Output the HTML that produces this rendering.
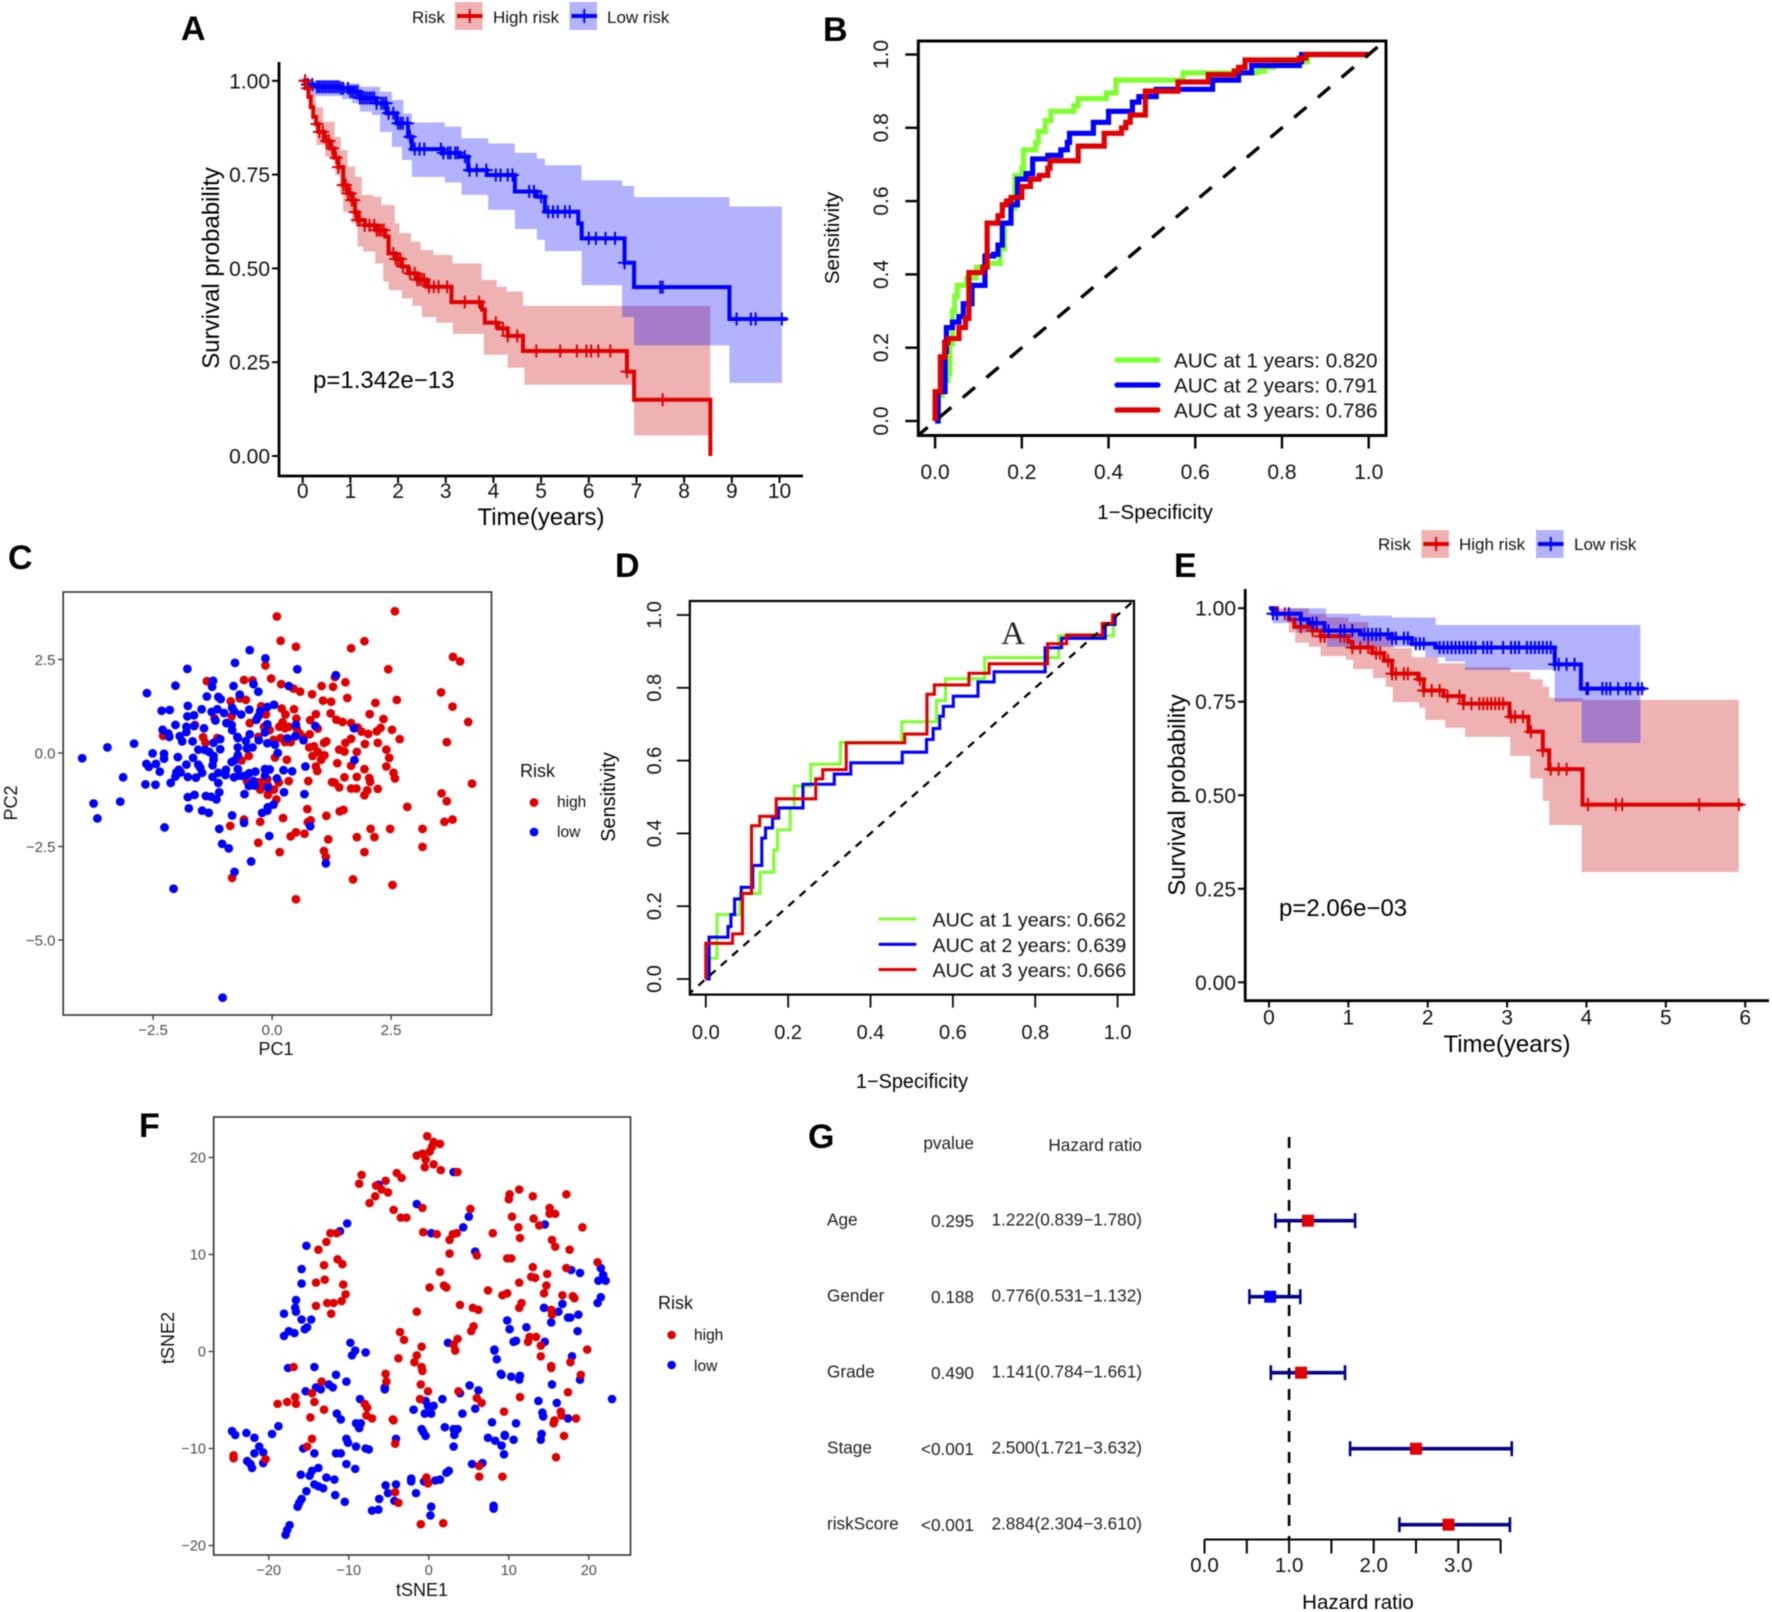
<!DOCTYPE html>
<html lang="en">
<head>
<meta charset="utf-8">
<title>Prognostic risk model figure panels A to G</title>
<style>
html,body{margin:0;padding:0;background:#fff;}
svg{display:block;filter:blur(0.4px);}
text{font-family:"Liberation Sans",sans-serif;fill:#000;}
.letter{font-weight:700;font-size:34px;}
.km-leg{font-size:17px;fill:#111;}
.title24{font-size:24px;}
.title20{font-size:20.5px;}
.title20d{font-size:19.9px;}
.gg-title{font-size:18px;fill:#111;}
.gg-leg{font-size:15.5px;fill:#111;}
.forest{font-size:17.2px;fill:#222;}
</style>
</head>
<body>
<svg id="figure" xmlns="http://www.w3.org/2000/svg" width="1772" height="1612" viewBox="0 0 1772 1612">
<rect x="0" y="0" width="1772" height="1612" fill="#fff"/>
<defs>
<clipPath id="clip-b"><rect x="918" y="41" width="469" height="394"/></clipPath>
<clipPath id="clip-d"><rect x="690" y="601" width="444" height="393"/></clipPath>
</defs>

<g id="panel-a">
<text class="letter" x="181" y="40">A</text>
<text class="km-leg" x="412" y="23">Risk</text>
<text class="km-leg" x="493" y="23">High risk</text>
<text class="km-leg" x="607" y="23">Low risk</text>
<text class="title24" x="541" y="525" text-anchor="middle">Time(years)</text>
<text class="title24" transform="translate(219,268) rotate(-90)" text-anchor="middle">Survival probability</text>
<text class="title24" x="313" y="388">p=1.342e−13</text>
</g>

<g id="panel-b">
<text class="letter" x="823" y="41">B</text>
<text class="title20" x="1155" y="519" text-anchor="middle">1−Specificity</text>
<text class="title20" transform="translate(839,238) rotate(-90)" text-anchor="middle">Sensitivity</text>
</g>

<g id="panel-c">
<text class="letter" x="8" y="569">C</text>
<text class="gg-title" x="276" y="1055" text-anchor="middle">PC1</text>
<text class="gg-title" transform="translate(17,803) rotate(-90)" text-anchor="middle">PC2</text>
<text class="gg-title" x="520" y="777">Risk</text>
<text class="gg-leg" x="557" y="807">high</text>
<text class="gg-leg" x="557" y="837">low</text>
</g>

<g id="panel-d">
<text class="letter" x="615" y="577">D</text>
<text class="title20d" x="912" y="1088" text-anchor="middle">1−Specificity</text>
<text class="title20d" transform="translate(615,797) rotate(-90)" text-anchor="middle">Sensitivity</text>
<text x="1013" y="644" text-anchor="middle" style="font-family:'Liberation Serif',serif;font-size:33px;fill:#222;">A</text>
</g>

<g id="panel-e">
<text class="letter" x="1174" y="577">E</text>
<text class="km-leg" x="1378" y="550">Risk</text>
<text class="km-leg" x="1459" y="550">High risk</text>
<text class="km-leg" x="1574" y="550">Low risk</text>
<text class="title24" x="1507" y="1052" text-anchor="middle">Time(years)</text>
<text class="title24" transform="translate(1185,795) rotate(-90)" text-anchor="middle">Survival probability</text>
<text class="title24" x="1279" y="916">p=2.06e−03</text>
</g>

<g id="panel-f">
<text class="letter" x="139" y="1137">F</text>
<text class="gg-title" x="422" y="1596" text-anchor="middle">tSNE1</text>
<text class="gg-title" transform="translate(174,1338) rotate(-90)" text-anchor="middle">tSNE2</text>
<text class="gg-title" x="658" y="1309">Risk</text>
<text class="gg-leg" x="694" y="1340">high</text>
<text class="gg-leg" x="694" y="1371">low</text>
</g>

<g id="panel-g">
<text class="letter" x="808" y="1148">G</text>
<text class="forest" x="974" y="1149" text-anchor="end">pvalue</text>
<text class="forest" x="1142" y="1151" text-anchor="end">Hazard ratio</text>
<text class="title20" x="1358" y="1609" text-anchor="middle">Hazard ratio</text>
</g>
</svg>

<script>
// ---------- Panel A: survival data ----------
const aXTicks = [0,1,2,3,4,5,6,7,8,9,10];
const aYTicks = [0,0.25,0.5,0.75,1];
const aYTickLabels = ['0.00','0.25','0.50','0.75','1.00'];
const aHighT = [0,.06,.12,.17,.22,.28,.33,.45,.57,.66,.75,.85,.94,1.03,1.1,1.15,1.3,1.55,1.73,1.8,1.95,2.08,2.21,2.4,2.6,3.12,3.76,3.82,4.1,4.3,4.62,6.8,6.95,8.55];
const aHighS = [1,.98,.957,.93,.904,.885,.864,.84,.82,.795,.77,.722,.7,.682,.65,.629,.615,.602,.585,.54,.525,.505,.487,.47,.451,.41,.39,.355,.34,.32,.28,.225,.15,0];
const aHighUpperT = [0,.1,.22,.43,.67,.8,.94,1.1,1.24,1.48,1.65,1.93,2.03,2.27,2.47,2.74,3.14,3.75,4.07,4.28,4.62];
const aHighUpper = [1,.98,.93,.891,.851,.816,.771,.744,.696,.691,.669,.62,.594,.571,.549,.536,.513,.469,.451,.438,.4];
const aHighLowerT = [0,.1,.27,.29,.47,.68,.78,.85,1.03,1.15,1.27,1.52,1.69,1.8,2.08,2.3,2.5,2.8,3.15,3.8,4.3,4.65,6.95];
const aHighLower = [1,.96,.878,.829,.798,.749,.7,.651,.62,.558,.545,.513,.465,.442,.42,.4,.37,.355,.325,.27,.235,.19,.055];
const aHighCensor = [.05,.1,.3,.35,.42,.5,.55,.62,.7,.75,.85,.9,.95,1,1.03,1.07,1.1,1.15,1.2,1.3,1.4,1.5,1.55,1.6,1.65,1.7,1.9,1.95,2,2.05,2.1,2.25,2.35,2.4,2.45,2.5,2.55,2.65,2.75,2.85,3.03,3.4,3.7,4.05,4.2,4.3,4.5,4.9,5.4,5.75,5.95,6.05,6.2,6.45,6.8,7.55];
const aLowT = [0,.1,.22,.78,.99,1.2,1.55,1.76,1.97,2.21,2.29,2.95,3.3,3.47,3.86,4.45,4.91,5.08,5.78,5.85,6.75,6.95,8.95];
const aLowS = [1,.99,.984,.98,.971,.954,.94,.914,.887,.851,.818,.808,.798,.762,.749,.705,.691,.651,.62,.58,.515,.45,.365];
const aLowUpperT = [0,.82,1.2,1.62,1.87,2.11,2.29,2.98,3.33,3.89,4.45,4.91,5.08,5.85,6.7,6.95,8.95];
const aLowUpper = [1,.993,.984,.971,.949,.913,.889,.878,.847,.833,.808,.793,.775,.735,.72,.69,.665];
const aLowLowerT = [0,.21,.82,1.03,1.2,1.45,1.62,1.87,2.08,2.29,2.98,3.33,3.89,4.45,4.91,5.08,5.85,6.7,6.95,8.95];
const aLowLower = [1,.959,.951,.94,.918,.909,.864,.824,.789,.744,.729,.696,.656,.605,.576,.546,.455,.37,.295,.195];
const aLowCensor = [.05,.1,.2,.3,.35,.4,.45,.5,.55,.6,.65,.7,.75,.8,.85,.95,1,1.05,1.1,1.15,1.2,1.25,1.3,1.35,1.4,1.45,1.5,1.55,1.65,1.7,1.75,1.8,1.9,2,2.05,2.1,2.2,2.25,2.35,2.45,2.55,2.9,2.95,3.05,3.1,3.2,3.25,3.4,3.5,3.65,3.85,4.05,4.15,4.3,4.4,4.75,4.85,5,5.15,5.25,5.35,5.5,5.6,6,6.15,6.35,6.55,6.75,7.5,7.55,9.1,9.4,9.5,10.05];
const aLowLineEnd = 10.16;
const aBandHighEnd = 8.55;
const aBandLowEnd = 10.05;

// ---------- Panel B: ROC data ----------
const rocTicks = [0,0.2,0.4,0.6,0.8,1];
const rocTickLabels = ['0.0','0.2','0.4','0.6','0.8','1.0'];
const bGreenFpr = [0,.007,.016,.03,.034,.04,.045,.051,.073,.095,.122,.15,.16,.175,.184,.2,.204,.232,.238,.254,.267,.32,.33,.395,.417,.572,.744,.76,.78,.859,1];
const bGreenTpr = [0,.07,.11,.13,.21,.3,.34,.37,.39,.42,.43,.47,.54,.58,.67,.69,.74,.76,.79,.82,.845,.86,.88,.895,.93,.95,.955,.965,.98,1,1];
const bBlueFpr = [0,.007,.023,.026,.04,.055,.065,.085,.115,.135,.145,.155,.175,.19,.21,.225,.26,.29,.305,.31,.365,.4,.455,.47,.51,.64,.7,.73,.84,.845,1];
const bBlueTpr = [0,.08,.19,.255,.27,.285,.32,.37,.45,.455,.48,.54,.59,.66,.675,.715,.725,.74,.76,.785,.815,.845,.87,.885,.905,.93,.95,.97,.98,1,1];
const bRedFpr = [0,0,.01,.012,.022,.03,.055,.07,.078,.11,.12,.12,.145,.155,.165,.175,.2,.22,.24,.26,.265,.33,.39,.43,.44,.45,.485,.56,.63,.69,.7,.715,.84,.855,1];
const bRedTpr = [0,.08,.08,.175,.215,.225,.255,.28,.405,.42,.445,.54,.56,.59,.6,.61,.64,.66,.67,.69,.71,.75,.785,.8,.815,.835,.9,.925,.945,.955,.965,.985,.99,1,1];
const bAucLabels = ['AUC at 1 years: 0.820','AUC at 2 years: 0.791','AUC at 3 years: 0.786'];

// ---------- Panel C: PCA data ----------
const cXTicks = [-2.5,0,2.5];
const cXTickLabels = ['−2.5','0.0','2.5'];
const cYTicks = [-5,-2.5,0,2.5];
const cYTickLabels = ['−5.0','−2.5','0.0','2.5'];
const cHighPC1 = [.1,2.58,.18,.5,1.66,1.94,-.14,3.8,3.95,2.44,-1.37,-.59,-.41,-.02,.19,.45,.59,1.04,1.28,1.32,1.54,.84,1.58,3.55,1.07,1.24,2.17,2.62,-.87,-.68,-.55,-.23,.2,.46,3.79,.92,1.23,2.05,.28,-.85,-1.21,-1.62,-.13,-.47,-.17,-.05,.15,.22,.27,.35,.51,.8,.96,1.35,1.48,1.66,1.8,1.88,2.34,2.28,2.2,2.52,4.12,2.02,.52,.58,.64,.79,-2.29,-1.45,-1.15,-1.4,-.29,.03,.18,.27,.39,2.68,3.67,1.66,1.54,2.22,1.95,1.14,1.09,.78,.88,1.41,1.52,2.4,1.78,.96,.85,1.1,1.03,-.49,-.64,.06,.31,2.46,1.37,1.66,.92,.95,1.94,2.4,2.55,2.58,1.52,1.78,2.04,2.06,1.26,1.31,.76,.35,.14,-.1,-.53,-.27,-.09,-.25,-.13,1.41,1.66,1.77,2,2.22,4.2,1.94,3.56,-.09,.04,.09,3.67,2.84,.74,1.42,1.5,.23,3.79,3.62,.81,.75,-.25,-.59,-.88,1.14,2.07,2.48,3.16,.5,.68,.39,1.78,2.15,1.18,-.29,3.16,.16,1.09,1.94,1.13,-.84,1.7,2.53,.5];
const cHighPC2 = [3.65,3.79,3,2.84,2.8,2.99,2.34,2.57,2.45,2.24,1.92,1.95,1.94,1.99,1.84,1.72,1.64,1.79,1.77,2.03,1.89,1.57,1.47,1.62,1.4,1.37,1.34,1.42,1.38,1.46,1.42,1.25,1.19,1.17,1.24,1.04,1.06,1.04,1.03,.98,.93,.75,1.03,.8,.7,.61,.7,.82,.66,.7,.92,.88,.65,.89,.83,.8,.68,.57,.91,.67,.58,.62,.83,.51,.64,.52,.43,.5,.46,.42,.4,.27,.43,.35,.4,.29,.29,.37,.29,.38,.27,.27,.24,.31,.27,.15,.18,.09,.04,.09,.03,.03,-.08,-.06,-.18,-.08,-.2,-.12,-.18,-.13,-.27,-.34,-.36,-.48,-.43,-.36,-.53,-.68,-.65,-.64,-.67,-.77,-.78,-.79,-.75,-.75,-.79,-.7,-.75,-.78,-.87,-.98,-.89,-.92,-.95,-.95,-1,-.96,-.82,-1.13,-1.08,-1.12,-.98,-1.24,-1.29,-1.44,-1.5,-1.56,-1.52,-1.74,-1.78,-1.84,-1.8,-1.85,-1.84,-1.78,-1.95,-1.68,-2.03,-2.03,-2.03,-2.12,-2.16,-2.23,-2.25,-2.25,-2.31,-2.4,-2.51,-2.65,-2.62,-2.65,-2.78,-3.34,-3.38,-3.53,-3.91];
const cLowPC1 = [-.47,-.14,-.78,.53,-1.78,1.34,-1.24,-1.26,-2.03,-.81,-.39,.35,-.29,-.68,-2.63,-1.37,-1.13,-1.08,-1.77,-1.48,-2.32,-2.15,-1.27,-1.15,-1.01,-.84,-.8,-.65,-.48,.04,-.1,-.25,-.29,-.33,-1.19,-1.78,-1.64,-.96,-.85,-.1,-2.03,-1.8,-1.64,-1.43,-2.3,-.84,-1.8,-2.18,-2.16,-1.94,-.47,-.15,-.73,-.72,.49,.32,.66,1.72,.91,.5,-1.89,-1.67,-1.23,-1.09,-.55,-.28,-.1,.06,-3.46,-2.9,-1.55,-1.41,-1.32,-1.09,-.72,-.53,-.41,-.72,.12,-2.51,-2.27,-2.27,-1.98,-1.66,-1.23,-1.23,-.85,-.79,-2.64,-2.59,-2.44,-3.99,-1.8,-1.55,-1.51,-1.25,1.73,.7,-2.36,-1.96,-2.01,-1.92,-1.47,-1.13,-.97,-.72,-.48,-.35,-.15,-.05,.24,.42,-1.25,-.98,-.8,-.67,-.57,-.15,.1,-3.13,-2.03,-1.77,-1.6,-2.13,-1.13,-2.66,-2.45,-.39,-.37,-.49,-.09,-1.11,-.58,.25,.68,-1.63,-1.39,-1.77,-1.28,-1.17,-3.75,-3.19,-3.67,-1.75,-1.47,-1.33,.03,-.09,-.1,-.21,-.84,-.59,-2.26,-1.11,.8,-.06,-1.05,-.91,-.44,1.13,-.79,-2.07,-1.04];
const cLowPC2 = [2.75,2.53,2.41,2.24,2.25,2.08,1.93,1.77,1.8,1.79,1.84,1.79,1.64,1.56,1.6,1.51,1.5,1.44,1.26,1.17,1.13,1.15,1.1,1.17,1.07,1.21,1.12,1.03,1.16,1.29,1.23,1.12,.98,.89,.87,.98,1.01,.8,.75,.77,.75,.7,.72,.66,.62,.61,.56,.52,.43,.45,.5,.55,.43,.4,.45,.39,.34,.66,.72,.75,.31,.31,.27,.37,.32,.34,.26,.22,.15,.25,.09,.08,.03,.1,.15,.12,.15,-.06,0,-.01,-.02,-.15,-.11,-.13,-.08,-.18,-.24,-.2,-.29,-.37,-.29,-.14,-.31,-.31,-.39,-.33,-.19,-.36,-.5,-.45,-.52,-.52,-.53,-.53,-.45,-.43,-.54,-.5,-.43,-.44,-.46,-.49,-.64,-.59,-.65,-.61,-.61,-.61,-.68,-.65,-.63,-.64,-.66,-.8,-.8,-.84,-.85,-.75,-.87,-.88,-.92,-1.05,-1.1,-1.05,-1.1,-1.12,-1.15,-1.18,-1.17,-1.24,-1.35,-1.3,-1.75,-1.48,-1.54,-1.6,-1.38,-1.45,-1.54,-1.6,-1.67,-1.87,-1.99,-2.03,-1.96,-2.22,-2.43,-2.55,-2.9,-2.95,-3.18,-3.63,-6.54];

// ---------- Panel D: ROC data ----------
const dGreenFpr = [0,.008,.027,.083,.132,.165,.174,.205,.215,.255,.327,.476,.56,.582,.677,.857,.99,1];
const dGreenTpr = [0,.057,.177,.235,.293,.355,.41,.47,.53,.59,.65,.707,.765,.825,.883,.943,1,1];
const dBlueFpr = [0,.008,.054,.061,.07,.086,.114,.136,.145,.162,.177,.236,.312,.352,.477,.536,.552,.568,.577,.601,.661,.7,.824,.864,.97,.994,1];
const dBlueTpr = [0,.115,.144,.177,.22,.252,.312,.387,.415,.442,.47,.535,.563,.594,.623,.658,.688,.722,.749,.777,.816,.844,.91,.936,.974,1,1];
const dRedFpr = [0,0,.065,.089,.111,.131,.171,.267,.284,.341,.483,.537,.555,.639,.688,.83,.876,.963,.988,1];
const dRedTpr = [0,.098,.124,.235,.421,.447,.495,.55,.575,.649,.673,.782,.808,.84,.866,.921,.945,.977,1,1];
const dAucLabels = ['AUC at 1 years: 0.662','AUC at 2 years: 0.639','AUC at 3 years: 0.666'];

// ---------- Panel E: survival data ----------
const eXTicks = [0,1,2,3,4,5,6];
const eHighT = [0,.1,.25,.32,.55,.65,1,1.05,1.3,1.45,1.55,1.88,1.95,2.2,2.45,3.03,3.27,3.45,3.53,3.95];
const eHighS = [1,.985,.97,.95,.94,.925,.91,.895,.88,.86,.825,.81,.78,.765,.745,.71,.67,.62,.57,.475];
const eHighUpperT = [0,.5,.72,1,1.25,1.57,1.8,2.13,2.47,3.04,3.29,3.45,3.53,3.95];
const eHighUpper = [1,.985,.975,.963,.93,.893,.869,.853,.842,.83,.81,.79,.76,.755];
const eHighLowerT = [0,.25,.33,.5,.65,.97,1.06,1.31,1.47,1.56,1.89,1.97,2.22,2.47,3.04,3.29,3.45,3.53,3.94];
const eHighLower = [1,.935,.908,.897,.872,.862,.837,.813,.79,.749,.734,.701,.68,.656,.605,.545,.485,.42,.295];
const eHighCensor = [.1,.2,.4,.55,.65,.7,.9,.95,1.05,1.15,1.25,1.35,1.4,1.5,1.55,1.6,1.7,1.75,1.9,1.95,2.05,2.15,2.25,2.4,2.45,2.55,2.65,2.7,2.75,2.8,2.85,2.9,2.95,3.05,3.1,3.2,3.3,3.45,3.55,3.65,3.75,4.02,4.37,4.45,5.42,5.92];
const eLowT = [0,.05,.4,.5,.7,1.15,1.55,1.8,2.1,3.6,3.93];
const eLowS = [1,.985,.97,.96,.94,.93,.92,.905,.895,.85,.785];
const eLowUpperT = [0,.5,.72,1.15,1.55,2.1];
const eLowUpper = [1,1,.985,.98,.975,.955];
const eLowLowerT = [0,.05,.35,.73,1.97,2.22,2.47,3.6,3.94];
const eLowLower = [1,.96,.935,.897,.869,.858,.835,.75,.64];
const eLowCensor = [.05,.1,.25,.4,.55,.6,.75,.9,.95,1.05,1.2,1.25,1.3,1.35,1.4,1.5,1.55,1.6,1.7,1.75,1.85,1.9,1.95,2.15,2.2,2.25,2.3,2.35,2.4,2.45,2.5,2.55,2.6,2.7,2.75,2.8,2.95,3.05,3.1,3.15,3.25,3.3,3.35,3.4,3.45,3.5,3.55,3.6,3.65,3.75,3.85,4,4.02,4.2,4.25,4.3,4.4,4.5,4.55,4.65,4.7];
const eHighLineEnd = 5.97;
const eLowLineEnd = 4.74;
const eBandHighEnd = 5.92;
const eBandLowEnd = 4.68;

// ---------- Panel F: tSNE data ----------
const fXTicks = [-20,-10,0,10,20];
const fXTickLabels = ['−20','−10','0','10','20'];
const fYTicks = [-20,-10,0,10,20];
const fYTickLabels = ['−20','−10','0','10','20'];
const fHighX = [-.2,.6,1.4,.4,.1,-1.5,-.8,-.4,-.5,.6,1.5,3.6,-8.4,-8.7,-6.6,-5.4,-4,-3.4,-5.9,-5.1,-6.7,-7.4,-4.4,-3.5,-2.8,-.8,5.2,11.3,10.1,10,13,17.2,15.1,15.1,15.8,10.4,13.1,13.8,11.2,19.2,-12.3,-11.5,-12.8,-13.8,-.7,1,3,3.5,2.6,8,11.4,15.4,15.8,17.6,2.6,6,9.8,10.3,-11.4,-10.8,-13.1,13,17.2,21.1,1.4,14.8,12.8,13.3,11.3,14.7,-13,-14.1,-10.7,-10.4,.1,1.9,2.2,7.4,9.2,9.8,14.4,16.7,18,18.2,-10.9,-12.7,-11.9,-14.1,-12.2,3.9,5.5,6.2,11.6,11.3,15.3,15.4,-1.5,-3.6,-3.1,5.6,5.3,3.6,3.1,3.3,12.6,13.4,12.4,14,19.8,-.9,-1.5,-3.8,-1.8,-.9,-.8,14,15.3,15.3,17.7,19,-16.9,-5.4,-5.3,-1,-.1,-13.4,-14.6,-16.7,-17.7,-18.9,-16.6,-14.3,-13.1,-14.8,3.7,-1.1,6,6.6,11.4,17.4,-8,-7.7,-7.8,-7.1,-4.5,-4.4,9.4,16.5,16.6,15.7,15.6,18.4,16.9,-14.6,-15.2,-4.2,-24.4,-24.4,-20.4,15.9,6.3,6.3,9.2,-.3,-.1,-4.2,-3.8,-1,1.8];
const fHighY = [22.2,21.6,21.4,21.1,20.6,20.2,20.4,19.8,19,19.3,18.7,18.5,18.2,17.3,17.1,17.6,18.4,17.9,16.7,16.4,16,15.3,14.6,13.8,13.8,14.8,14.7,16.7,16.2,15.7,16,16.2,14.8,14.2,14.2,13.9,13.7,13,12.8,12.8,12.2,12.2,11.3,10.5,12.3,12.1,12.1,12.2,11.5,12.2,11.7,11.5,10.8,10.5,10.1,9.9,9.6,9.6,9.5,9,8.9,8.7,8.6,9.2,8.2,8,7.7,7.6,7.1,6.8,7.4,7.1,6.9,5.9,6.6,6.8,6.6,6.3,5.8,6,6,5.8,5.7,5.5,5.2,5,5,4.7,3.9,4.8,4.5,4.3,5,4.5,4.3,3.8,4.1,2,1.2,2.6,2.1,1.3,.7,.1,1.5,1.5,1,.6,.2,.5,-.4,-.7,-1.1,-1.6,-2,-.5,-1.5,-1.7,-1.1,-2.4,-1.6,-2.3,-3.1,-3.4,-4.1,-3.1,-4.3,-4.7,-5.2,-5.4,-5.4,-5.2,-6,-6.8,-4.1,-4.9,-4.8,-5.3,-4.7,-4.2,-5.4,-5.8,-6.6,-6.9,-7,-7.1,-6.2,-6.2,-6.6,-7.1,-7.4,-6.9,-8.7,-9,-9.8,-9.5,-10.7,-11,-11.1,-10.9,-11.8,-12.9,-12.9,-13,-13.6,-14.5,-15.6,-17.8,-17.7];
const fLowX = [3.1,-6.3,-1.5,5,4.3,.3,14.5,-10.2,-11.1,-15.3,5.8,-15.9,-15.9,17.8,18.9,21.5,21.8,22.1,21.2,21.5,21.1,-16.6,-16.7,-16.6,-18.1,-15.9,-14.7,-15.2,-15.5,14.4,16.7,16.2,17.4,17.7,18.7,15.3,9.8,10.1,12.2,18.6,-17.5,-18.1,-16.8,-9.8,-9.2,-9.6,-7.9,2.4,10.6,10.9,14.5,8.2,8.2,8.5,17.9,-17.6,-14.3,-11.6,-10.3,-12.5,-12,-13.5,-14.1,-15.4,-5.5,-5.5,9,9.1,10.3,11.4,11.3,18.9,15.4,5.1,6.2,3.9,-8.6,1.7,13.7,16,22.9,-.4,-.1,.6,-1.9,-.5,.3,5.8,4.2,-11.5,-11,14.2,14.3,17.4,-9.1,-8.5,-8.7,7.9,10.9,2,3.1,3.6,3.2,-.9,-.7,-.4,7.4,8.3,9.1,9.5,9.5,10.6,14.1,14,-4.1,-10.3,-10.1,-9.1,-7.9,-7.5,3.1,-11.6,-11,-14.3,-15.7,9.4,5.4,6.7,-10.3,-9.2,-24.6,-24.2,-22.8,-21.8,-19.6,-18.8,-21.2,-20.7,-21.8,-22.7,-22.3,-22.1,-20.7,-16,-14.9,-14.6,-13.8,-12.8,-11.8,-14.3,-13.8,-13.2,-15.3,-11.7,-10.5,-15.9,-16.2,-16.4,-2.2,-2.2,-.6,.8,1.4,2.2,2.5,-5.4,-4.1,-5.1,-6.2,-4.3,-1.6,-7.1,-6.3,.3,.2,8.1,8.1,-17.4,-17.7,-17.9];
const fLowY = [18.5,17.2,15.2,13.9,12.8,12.2,13.1,13.2,12.4,10.9,10.3,8.5,7,8.4,8.1,8.6,7.9,7.3,7.3,5.6,5,5.3,4.5,4.1,3.9,3.3,3.3,2.5,2.3,4.5,4.9,4.1,3.5,3.5,3.8,3,3.2,2.3,2.5,2.1,2.1,1.6,1.9,.9,.1,-.4,-.1,.9,1,1.1,1,.2,.1,-.8,-.5,-1.7,-1.6,-2.4,-3.1,-3.4,-3.7,-3.9,-3.7,-4.1,-3.7,-3.9,-2.3,-2.4,-2.6,-2.5,-2.9,-2.9,-3.4,-3.5,-4,-4.3,-4.9,-4.9,-5.1,-5.3,-4.9,-5.1,-5.6,-5.6,-6,-6.4,-6.4,-5.9,-6.4,-6.4,-7,-6.3,-6.7,-6.9,-7.4,-7.4,-7.9,-7.3,-7.4,-7.8,-8,-8,-8.6,-8,-8.3,-8.7,-8.9,-9.2,-9.7,-8.6,-8.7,-9.1,-8.5,-9.1,-9,-9,-9.4,-9.8,-10,-10.1,-9.8,-10.5,-10.5,-10.5,-10,-10.6,-11.6,-11.5,-11.6,-12.1,-8.2,-8.6,-8.4,-8.9,-8.5,-7.7,-9.8,-10.4,-10.5,-11.3,-11.6,-12,-11.5,-12.7,-12.8,-12.3,-12,-13,-13.2,-13.7,-13.9,-14.1,-14.4,-14.8,-15.5,-15.2,-15.6,-16,-13.1,-13.4,-13.4,-13.3,-13.2,-12.5,-12.3,-13.8,-13.7,-14.6,-15.2,-15.4,-14.6,-16.4,-16.3,-16,-16.9,-15.9,-16.2,-17.9,-18.4,-18.9];

// ---------- Panel G: forest data ----------
const gVariables = ['Age','Gender','Grade','Stage','riskScore'];
const gPvalues = ['0.295','0.188','0.490','<0.001','<0.001'];
const gHR = [1.222,0.776,1.141,2.5,2.884];
const gLow = [0.839,0.531,0.784,1.721,2.304];
const gHigh = [1.78,1.132,1.661,3.632,3.61];
const gHRLabels = ['1.222(0.839−1.780)','0.776(0.531−1.132)','1.141(0.784−1.661)','2.500(1.721−3.632)','2.884(2.304−3.610)'];
const gAxisTicks = [0,0.5,1,1.5,2,2.5,3,3.5];
const gAxisLabelTicks = [0,1,2,3];
const gAxisLabels = ['0.0','1.0','2.0','3.0'];

// ---------- helpers ----------
const NS = 'http://www.w3.org/2000/svg';
const RED = '#e00000';
const BLUE = '#0000ff';
const GREEN = '#80ff30';
function linear(d0, d1, r0, r1) { return function (v) { return r0 + (v - d0) * (r1 - r0) / (d1 - d0); }; }
function mk(tag, attrs, parent) {
  const n = document.createElementNS(NS, tag);
  for (const k in attrs) n.setAttribute(k, attrs[k]);
  parent.appendChild(n);
  return n;
}
function addLine(parent, name, x1, y1, x2, y2, stroke, w) {
  const el = mk('line', {x1: x1, y1: y1, x2: x2, y2: y2, stroke: stroke, 'stroke-width': w}, parent);
  
  
  return el;
}
function addText(parent, name, str, x, y, size, anchor, fill) {
  const el = mk('text', {x: x, y: y, 'font-size': size, 'text-anchor': anchor, style: 'fill:' + fill}, parent);
  el.textContent = str;
  
  
  return el;
}
function addRotText(parent, name, str, x, y, size, fill) {
  const el = mk('text', {transform: 'translate(' + x + ',' + y + ') rotate(-90)', 'font-size': size, 'text-anchor': 'middle', style: 'fill:' + fill}, parent);
  el.textContent = str;
  
  
  return el;
}
function addRect(parent, name, x, y, w, h, fill, stroke, sw) {
  const el = mk('rect', {x: x, y: y, width: w, height: h, fill: fill, stroke: stroke, 'stroke-width': sw}, parent);
  
  
  return el;
}
function stepD(ts, ss, xf, yf, end) {
  let d = 'M' + xf(ts[0]) + ' ' + yf(ss[0]);
  for (let i = 1; i < ts.length; i++) d += 'H' + xf(ts[i]) + 'V' + yf(ss[i]);
  if (end !== undefined) d += 'H' + xf(end);
  return d;
}
function bandD(tu, u, tl, l, xf, yf, end) {
  let d = stepD(tu, u, xf, yf, end);
  d += 'V' + yf(l[l.length - 1]);
  for (let i = l.length - 1; i >= 1; i--) d += 'H' + xf(tl[i]) + 'V' + yf(l[i - 1]);
  d += 'H' + xf(tl[0]) + 'Z';
  return d;
}
function survAt(t, ts, ss) {
  let s = ss[0];
  for (let i = 0; i < ts.length; i++) if (ts[i] <= t) s = ss[i];
  return s;
}
function addPath(parent, name, d, fill, stroke, w) {
  const el = mk('path', {d: d, fill: fill, stroke: stroke, 'stroke-width': w}, parent);
  
  
  return el;
}
function addBand(parent, name, tu, u, tl, l, xf, yf, end, color) {
  const el = addPath(parent, name, bandD(tu, u, tl, l, xf, yf, end), color, 'none', 0);
  el.setAttribute('fill-opacity', '0.3');
  return el;
}
function addCurve(parent, name, ts, ss, censor, xf, yf, end, color) {
  const g = mk('g', {}, parent);
  
  
  addPath(g, name + '-line', stepD(ts, ss, xf, yf, end), 'none', color, 4);
  censor.forEach(function (t) {
    const px = xf(t), py = yf(survAt(t, ts, ss));
    const mark = mk('path', {d: 'M' + (px - 6.5) + ' ' + py + 'H' + (px + 6.5) + 'M' + px + ' ' + (py - 6.5) + 'V' + (py + 6.5), stroke: color, 'stroke-width': 2, fill: 'none'}, g);
    
    
  });
}
function addKmKey(parent, name, x, y, w, h, bandColor, color) {
  const el = mk('rect', {x: x, y: y, width: w, height: h, fill: bandColor, 'fill-opacity': 0.3}, parent);
  
  
  addLine(parent, name + '-line-swatch', x + 2, y + h / 2, x + w, y + h / 2, color, 4);
  addLine(parent, name + '-censor-swatch', x + w / 2 + 1, y + h / 2 - 7, x + w / 2 + 1, y + h / 2 + 7, color, 2);
}
function addDots(parent, name, xs, ys, xf, yf, color, r) {
  const g = mk('g', {}, parent);
  
  
  for (let i = 0; i < xs.length; i++) {
    const c = mk('circle', {cx: xf(xs[i]), cy: yf(ys[i]), r: r, fill: color}, g);
    
    
  }
}

// ---------- Panel A ----------
(function () {
  const p = document.getElementById('panel-a');
  const x = linear(0, 10, 302.7, 779.5);
  const y = linear(0, 1, 456, 80.8);
  addBand(p, 'high-risk-confidence-band', aHighUpperT, aHighUpper, aHighLowerT, aHighLower, x, y, aBandHighEnd, 'rgb(200,0,0)');
  addBand(p, 'low-risk-confidence-band', aLowUpperT, aLowUpper, aLowLowerT, aLowLower, x, y, aBandLowEnd, 'rgb(0,0,255)');
  addCurve(p, 'low-risk-curve', aLowT, aLowS, aLowCensor, x, y, aLowLineEnd, BLUE);
  addCurve(p, 'high-risk-curve', aHighT, aHighS, aHighCensor, x, y, aHighT[aHighT.length - 1], RED);
  addLine(p, 'y-axis-line', 279, 62, 279, 477, '#000', 2.8);
  addLine(p, 'x-axis-line', 278, 476, 803, 476, '#000', 2.8);
  aXTicks.forEach(function (t) {
    addLine(p, 'x-tick', x(t), 476, x(t), 483, '#000', 2);
    addText(p, 'x-tick-label', String(t), x(t), 498, 21, 'middle', '#111');
  });
  aYTicks.forEach(function (t, i) {
    addLine(p, 'y-tick', 272, y(t), 279, y(t), '#000', 2);
    addText(p, 'y-tick-label', aYTickLabels[i], 270, y(t) + 7.5, 21, 'end', '#111');
  });
  addKmKey(p, 'legend-high-risk', 455, 2, 27.5, 28, 'rgb(200,0,0)', RED);
  addKmKey(p, 'legend-low-risk', 569.5, 2, 27.5, 28, 'rgb(0,0,255)', BLUE);
})();

// ---------- ROC drawer ----------
function drawRoc(p, cfg) {
  const x = linear(0, 1, cfg.x0, cfg.x1);
  const y = linear(0, 1, cfg.y0, cfg.y1);
  const clip = mk('g', {'clip-path': 'url(#' + cfg.clip + ')'}, p);
  
  
  const series = cfg.series;
  series.forEach(function (s) {
    addPath(clip, s.name, stepD(s.f, s.t, x, y), 'none', s.color, cfg.lw);
  });
  const diag = addLine(clip, 'reference-diagonal', x(-0.1), y(-0.1), x(1.1), y(1.1), '#000', cfg.dashW);
  diag.setAttribute('stroke-dasharray', cfg.dash);
  addRect(p, 'plot-box', cfg.left, cfg.top, cfg.right - cfg.left, cfg.bottom - cfg.top, 'none', '#000', cfg.boxW);
  rocTicks.forEach(function (t, i) {
    addLine(p, 'x-tick', x(t), cfg.bottom, x(t), cfg.bottom + 13, '#000', cfg.boxW * 0.8);
    addText(p, 'x-tick-label', rocTickLabels[i], x(t), cfg.xLabelY, cfg.fs, 'middle', '#111');
    addLine(p, 'y-tick', cfg.left - 13, y(t), cfg.left, y(t), '#000', cfg.boxW * 0.8);
    addRotText(p, 'y-tick-label', rocTickLabels[i], cfg.yLabelX, y(t), cfg.fs, '#111');
  });
  series.forEach(function (s, i) {
    const ly = cfg.legY + i * cfg.legStep;
    const l = addLine(p, 'legend-line-' + s.name, cfg.legX0, ly, cfg.legX1, ly, s.color, cfg.legW);
    l.setAttribute('stroke-linecap', 'round');
    addText(p, 'legend-label-' + s.name, cfg.labels[i], cfg.legT, ly + 7.5, cfg.legFs, 'start', '#111');
  });
}
drawRoc(document.getElementById('panel-b'), {
  x0: 935.1, x1: 1368.7, y0: 421, y1: 54.5, left: 918.3, right: 1386, top: 41, bottom: 435.5,
  clip: 'clip-b', lw: 5.2, dashW: 3.4, dash: '16 15', boxW: 3, fs: 21, xLabelY: 479, yLabelX: 888,
  legX0: 1117, legX1: 1158, legY: 360, legStep: 25, legW: 5.2, legT: 1174, legFs: 20.7, labels: bAucLabels,
  series: [
    {name: 'auc-1-year-curve', f: bGreenFpr, t: bGreenTpr, color: GREEN},
    {name: 'auc-2-year-curve', f: bBlueFpr, t: bBlueTpr, color: BLUE},
    {name: 'auc-3-year-curve', f: bRedFpr, t: bRedTpr, color: RED}
  ]
});
drawRoc(document.getElementById('panel-d'), {
  x0: 705.8, x1: 1117.6, y0: 979, y1: 615, left: 689.8, right: 1134, top: 601, bottom: 994.6,
  clip: 'clip-d', lw: 3.1, dashW: 2.3, dash: '8 7', boxW: 2.2, fs: 20, xLabelY: 1039, yLabelX: 661,
  legX0: 880, legX1: 915, legY: 919, legStep: 25.3, legW: 3.1, legT: 932.5, legFs: 19.7, labels: dAucLabels,
  series: [
    {name: 'auc-1-year-curve', f: dGreenFpr, t: dGreenTpr, color: GREEN},
    {name: 'auc-2-year-curve', f: dBlueFpr, t: dBlueTpr, color: BLUE},
    {name: 'auc-3-year-curve', f: dRedFpr, t: dRedTpr, color: RED}
  ]
});

// ---------- Panel C ----------
(function () {
  const p = document.getElementById('panel-c');
  const x = linear(0, 2.5, 272.1, 391.1);
  const y = linear(0, 2.5, 753, 659.5);
  addDots(p, 'high-risk-points', cHighPC1, cHighPC2, x, y, RED, 4.4);
  addDots(p, 'low-risk-points', cLowPC1, cLowPC2, x, y, BLUE, 4.4);
  addRect(p, 'plot-box', 63.2, 592, 428.3, 423, 'none', '#333', 1.6);
  cXTicks.forEach(function (t, i) {
    addLine(p, 'x-tick', x(t), 1015, x(t), 1020, '#333', 1.3);
    addText(p, 'x-tick-label', cXTickLabels[i], x(t), 1035, 15, 'middle', '#4d4d4d');
  });
  cYTicks.forEach(function (t, i) {
    addLine(p, 'y-tick', 58, y(t), 63, y(t), '#333', 1.3);
    addText(p, 'y-tick-label', cYTickLabels[i], 55.5, y(t) + 5.3, 15, 'end', '#4d4d4d');
  });
  const k1 = mk('circle', {cx: 534, cy: 802.5, r: 4.4, fill: RED}, p);
  
  
  const k2 = mk('circle', {cx: 534, cy: 832, r: 4.4, fill: BLUE}, p);
  
  
})();

// ---------- Panel E ----------
(function () {
  const p = document.getElementById('panel-e');
  const x = linear(0, 6, 1269, 1745.2);
  const y = linear(0, 1, 982.3, 608.2);
  addBand(p, 'high-risk-confidence-band', eHighUpperT, eHighUpper, eHighLowerT, eHighLower, x, y, eBandHighEnd, 'rgb(200,0,0)');
  addBand(p, 'low-risk-confidence-band', eLowUpperT, eLowUpper, eLowLowerT, eLowLower, x, y, eBandLowEnd, 'rgb(0,0,255)');
  addCurve(p, 'high-risk-curve', eHighT, eHighS, eHighCensor, x, y, eHighLineEnd, RED);
  addCurve(p, 'low-risk-curve', eLowT, eLowS, eLowCensor, x, y, eLowLineEnd, BLUE);
  addLine(p, 'y-axis-line', 1245.2, 589, 1245.2, 1002, '#000', 2.8);
  addLine(p, 'x-axis-line', 1244, 1000.7, 1769, 1000.7, '#000', 2.8);
  eXTicks.forEach(function (t) {
    addLine(p, 'x-tick', x(t), 1000.7, x(t), 1007.5, '#000', 2);
    addText(p, 'x-tick-label', String(t), x(t), 1024.5, 21, 'middle', '#111');
  });
  aYTicks.forEach(function (t, i) {
    addLine(p, 'y-tick', 1238, y(t), 1245, y(t), '#000', 2);
    addText(p, 'y-tick-label', aYTickLabels[i], 1236, y(t) + 7.5, 21, 'end', '#111');
  });
  addKmKey(p, 'legend-high-risk', 1421.4, 530, 27.5, 28, 'rgb(200,0,0)', RED);
  addKmKey(p, 'legend-low-risk', 1536, 530, 27.5, 28, 'rgb(0,0,255)', BLUE);
})();

// ---------- Panel F ----------
(function () {
  const p = document.getElementById('panel-f');
  const x = linear(0, 20, 428.8, 588.8);
  const y = linear(0, 20, 1351.5, 1157.5);
  addDots(p, 'low-risk-points', fLowX, fLowY, x, y, BLUE, 4.3);
  addDots(p, 'high-risk-points', fHighX, fHighY, x, y, RED, 4.3);
  addRect(p, 'plot-box', 213.7, 1117, 416.8, 438, 'none', '#333', 1.6);
  fXTicks.forEach(function (t, i) {
    addLine(p, 'x-tick', x(t), 1555, x(t), 1560, '#333', 1.3);
    addText(p, 'x-tick-label', fXTickLabels[i], x(t), 1575, 14.5, 'middle', '#4d4d4d');
  });
  fYTicks.forEach(function (t, i) {
    addLine(p, 'y-tick', 208.5, y(t), 213.7, y(t), '#333', 1.3);
    addText(p, 'y-tick-label', fYTickLabels[i], 206, y(t) + 5.2, 14.5, 'end', '#4d4d4d');
  });
  const k1 = mk('circle', {cx: 671.6, cy: 1335, r: 4.3, fill: RED}, p);
  
  
  const k2 = mk('circle', {cx: 671.6, cy: 1365, r: 4.3, fill: BLUE}, p);
  
  
})();

// ---------- Panel G ----------
(function () {
  const p = document.getElementById('panel-g');
  const x = linear(0, 1, 1204.5, 1289.1);
  const rowY = linear(0, 1, 1220.7, 1296.7);
  const ref = addLine(p, 'reference-line-hr-1', x(1), 1137, x(1), 1540, '#000', 2.6);
  ref.setAttribute('stroke-dasharray', '11 10');
  gVariables.forEach(function (v, i) {
    const ry = rowY(i);
    addText(p, 'variable-label', v, 827, ry + 5, 17.2, 'start', '#222');
    addText(p, 'pvalue-label', gPvalues[i], 974, ry + 6.5, 17.2, 'end', '#222');
    addText(p, 'hazard-ratio-label', gHRLabels[i], 1142, ry + 5, 17.2, 'end', '#222');
    addLine(p, 'ci-bar', x(gLow[i]), ry, x(gHigh[i]), ry, '#00008b', 3.6);
    addLine(p, 'ci-cap-low', x(gLow[i]), ry - 7.5, x(gLow[i]), ry + 7.5, '#00008b', 2.6);
    addLine(p, 'ci-cap-high', x(gHigh[i]), ry - 7.5, x(gHigh[i]), ry + 7.5, '#00008b', 2.6);
    addRect(p, 'hazard-ratio-marker', x(gHR[i]) - 6, ry - 6, 12, 12, gHR[i] > 1 ? RED : BLUE, 'none', 0);
  });
  addLine(p, 'x-axis-line', x(0), 1539.5, x(3.5), 1539.5, '#000', 2);
  gAxisTicks.forEach(function (t) {
    addLine(p, 'x-tick', x(t), 1539.5, x(t), 1553.5, '#000', 2);
  });
  gAxisLabelTicks.forEach(function (t, i) {
    addText(p, 'x-tick-label', gAxisLabels[i], x(t), 1572, 20.5, 'middle', '#111');
  });
})();
</script>
</body>
</html>
